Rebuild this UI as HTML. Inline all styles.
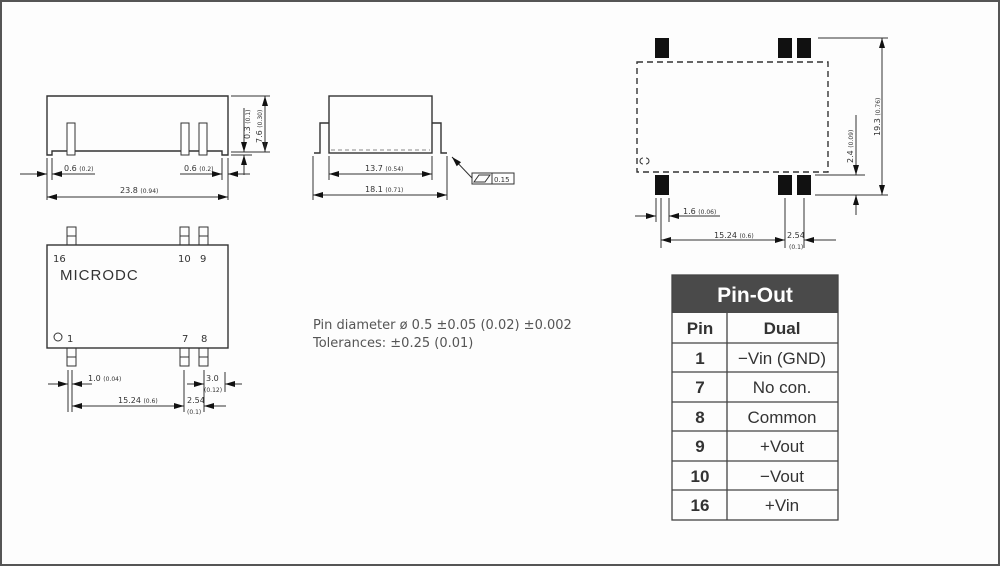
<!DOCTYPE html>
<html><head><meta charset="utf-8"><style>
html,body{margin:0;padding:0;background:#fff}
svg{display:block}
text{font-family:"DejaVu Sans","Liberation Sans",sans-serif;fill:#333}
.t text{font-family:"Liberation Sans",sans-serif}
</style></head><body>
<svg width="1000" height="566" viewBox="0 0 1000 566" xmlns="http://www.w3.org/2000/svg">
<defs>
<marker id="a" viewBox="0 0 10 6" refX="10" refY="3" markerWidth="10" markerHeight="6" markerUnits="userSpaceOnUse" orient="auto"><path d="M0,0L10,3L0,6Z" fill="#111"/></marker>
</defs>
<rect x="1" y="1" width="998" height="564" fill="#fdfdfd" stroke="#555" stroke-width="2"/>
<g stroke="#333" stroke-width="1" fill="none">
<!-- View 1 -->
<path d="M47,96H228V155H222V151H52V155H47Z" stroke-width="1.4"/>
<rect x="67" y="123" width="8" height="32" fill="#fff"/>
<rect x="181" y="123" width="8" height="32" fill="#fff"/>
<rect x="199" y="123" width="8" height="32" fill="#fff"/>
<path d="M231,96H270M231,152H270M231,155H252M47,158V200M52,158V180M222,158V180M228,158V200"/>
<path d="M265,99V152" marker-end="url(#a)"/><path d="M265,149V96" marker-end="url(#a)"/>
<path d="M244,108V152" marker-end="url(#a)"/><path d="M244,175V155" marker-end="url(#a)"/>
<path d="M20,174H47" marker-end="url(#a)"/><path d="M95,174H52" marker-end="url(#a)"/>
<path d="M180,174H222" marker-end="url(#a)"/><path d="M250,174H228" marker-end="url(#a)"/>
<path d="M138,197H47" marker-end="url(#a)"/><path d="M138,197H228" marker-end="url(#a)"/>
<!-- View 2 -->
<rect x="329" y="96" width="103" height="57" stroke-width="1.4"/>
<path d="M314,153H320V123H329M432,123H441V153H447" stroke-width="1.4"/>
<path d="M331,150H430" stroke-dasharray="4,3" stroke="#888"/>
<path d="M329,156V180M432,156V180M313,156V200M447,156V200"/>
<path d="M380,174H329" marker-end="url(#a)"/><path d="M380,174H432" marker-end="url(#a)"/>
<path d="M380,195H313" marker-end="url(#a)"/><path d="M380,195H447" marker-end="url(#a)"/>
<path d="M472,178L452,157" marker-end="url(#a)"/>
<rect x="472" y="173" width="42" height="11"/><path d="M492,173V184"/>
<path d="M474,182L479,175H490L485,182Z"/>
<!-- View 3 -->
<rect x="47" y="245" width="181" height="103" stroke-width="1.4"/>
<rect x="67" y="227" width="9" height="18"/><path d="M67,236H76"/>
<rect x="180" y="227" width="9" height="18"/><path d="M180,236H189"/>
<rect x="199" y="227" width="9" height="18"/><path d="M199,236H208"/>
<rect x="67" y="348" width="9" height="18"/><path d="M67,357H76"/>
<rect x="180" y="348" width="9" height="18"/><path d="M180,357H189"/>
<rect x="199" y="348" width="9" height="18"/><path d="M199,357H208"/>
<circle cx="58" cy="337" r="4"/>
<path d="M68,370V412M72,370V412M184,370V412M204,370V412M225,392V372"/>
<path d="M48,384H68" marker-end="url(#a)"/><path d="M92,384H72" marker-end="url(#a)"/>
<path d="M187,384H204" marker-end="url(#a)"/><path d="M242,384H225" marker-end="url(#a)"/>
<path d="M128,406H72" marker-end="url(#a)"/><path d="M128,406H184" marker-end="url(#a)"/>
<path d="M226,406H204" marker-end="url(#a)"/>
<!-- View 4 -->
<rect x="637" y="62" width="191" height="110" stroke-dasharray="6,4" stroke-width="1.4"/>
<path d="M818,38H888M815,175H865M815,195H888"/>
<path d="M882,110V38" marker-end="url(#a)"/><path d="M882,110V195" marker-end="url(#a)"/>
<path d="M856,115V175" marker-end="url(#a)"/><path d="M856,215V195" marker-end="url(#a)"/>
<path d="M656,198V222M661,198V248M669,198V222M785,198V248M804,198V248"/>
<path d="M635,216H656" marker-end="url(#a)"/><path d="M720,216H669" marker-end="url(#a)"/>
<path d="M720,240H661" marker-end="url(#a)"/><path d="M720,240H785" marker-end="url(#a)"/>
<path d="M836,240H804" marker-end="url(#a)"/>
</g>
<g fill="#111">
<rect x="655" y="38" width="14" height="20"/><rect x="778" y="38" width="14" height="20"/><rect x="797" y="38" width="14" height="20"/>
<rect x="655" y="175" width="14" height="20"/><rect x="778" y="175" width="14" height="20"/><rect x="797" y="175" width="14" height="20"/>
</g>
<path d="M646,158a3,3 0 0 1 0,6M643,158a3,3 0 0 0 0,6" stroke="#333" fill="none"/>
<g font-size="8">
<text x="64" y="171">0.6 <tspan font-size="6">(0.2)</tspan></text>
<text x="184" y="171">0.6 <tspan font-size="6">(0.2)</tspan></text>
<text x="120" y="193">23.8 <tspan font-size="6">(0.94)</tspan></text>
<text transform="translate(250,139) rotate(-90)">0.3 <tspan font-size="6">(0.1)</tspan></text>
<text transform="translate(262,143) rotate(-90)">7.6 <tspan font-size="6">(0.30)</tspan></text>
<text x="365" y="171">13.7 <tspan font-size="6">(0.54)</tspan></text>
<text x="365" y="192">18.1 <tspan font-size="6">(0.71)</tspan></text>
<text x="494" y="182" font-size="7">0.15</text>
<text x="88" y="381">1.0 <tspan font-size="6">(0.04)</tspan></text>
<text x="206" y="381">3.0</text><text x="204" y="392" font-size="6">(0.12)</text>
<text x="118" y="403">15.24 <tspan font-size="6">(0.6)</tspan></text>
<text x="187" y="403">2.54</text><text x="187" y="414" font-size="6">(0.1)</text>
<text transform="translate(880,136) rotate(-90)">19.3 <tspan font-size="6">(0.76)</tspan></text>
<text transform="translate(853,163) rotate(-90)">2.4 <tspan font-size="6">(0.09)</tspan></text>
<text x="683" y="214">1.6 <tspan font-size="6">(0.06)</tspan></text>
<text x="714" y="238">15.24 <tspan font-size="6">(0.6)</tspan></text>
<text x="787" y="238">2.54</text><text x="789" y="249" font-size="6">(0.1)</text>
</g>
<g font-size="10">
<text x="53" y="262">16</text><text x="178" y="262">10</text><text x="200" y="262">9</text>
<text x="67" y="342">1</text><text x="182" y="342">7</text><text x="201" y="342">8</text>
</g>
<text x="60" y="280" font-size="15" style="font-family:'Liberation Sans',sans-serif" letter-spacing="1">MICRODC</text>
<g font-size="13">
<text x="313" y="329" style="fill:#555">Pin diameter ø 0.5 ±0.05  (0.02) ±0.002</text>
<text x="313" y="347" style="fill:#555">Tolerances:  ±0.25 (0.01)</text>
</g>
<!-- Table -->
<rect x="672" y="275" width="166" height="38" fill="#4a4a4a"/>
<g class="t">
<text x="755" y="302" text-anchor="middle" font-size="21" font-weight="bold" style="fill:#fff">Pin-Out</text>
</g>
<g stroke="#444" stroke-width="1.3" fill="none">
<rect x="672" y="275" width="166" height="245"/>
<path d="M727,313V520M672,343H838M672,372H838M672,402H838M672,431H838M672,461H838M672,490H838"/>
</g>
<g class="t" font-size="17" text-anchor="middle">
<text x="700" y="334" font-weight="bold">Pin</text><text x="782" y="334" font-weight="bold">Dual</text>
<text x="700" y="364" font-weight="bold">1</text><text x="782" y="364">−Vin (GND)</text>
<text x="700" y="393" font-weight="bold">7</text><text x="782" y="393">No con.</text>
<text x="700" y="423" font-weight="bold">8</text><text x="782" y="423">Common</text>
<text x="700" y="452" font-weight="bold">9</text><text x="782" y="452">+Vout</text>
<text x="700" y="482" font-weight="bold">10</text><text x="782" y="482">−Vout</text>
<text x="700" y="511" font-weight="bold">16</text><text x="782" y="511">+Vin</text>
</g>
</svg>
</body></html>
